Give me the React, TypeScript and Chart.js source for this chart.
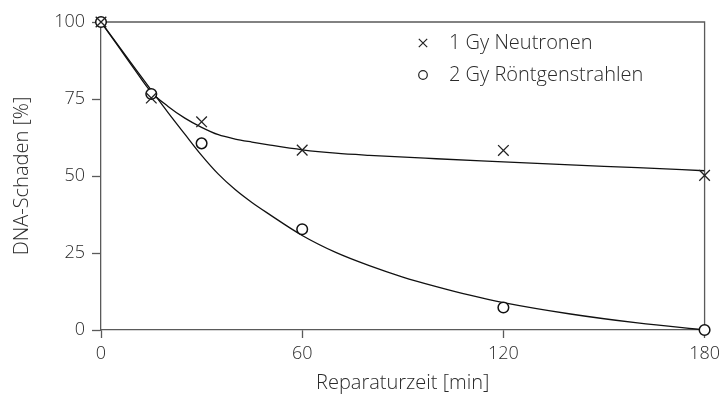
import React, { useEffect, useRef } from 'react';
import { Chart, registerables } from 'chart.js';

Chart.register(...registerables);

const neutronTimes = [0, 15, 30, 60, 120, 180];
const neutronDamage = [100, 75.3, 67.6, 58.4, 58.3, 50.2];
const xrayTimes = [0, 15, 30, 60, 120, 180];
const xrayDamage = [100, 76.6, 60.6, 32.7, 7.3, 0];

const neutronFitTimes = [0, 5, 10, 15, 20, 25, 30, 35, 40, 45, 50, 60, 70, 80, 100, 120, 140, 160, 180];
const neutronFitDamage = [100, 92.3, 84.6, 77.2, 72.6, 68.8, 65.8, 63.4, 62.0, 61.0, 60.1, 58.5, 57.4, 56.7, 55.6, 54.6, 53.6, 52.7, 51.7];
const xrayFitTimes = [0, 10, 20, 25, 30, 35, 40, 45, 50, 60, 70, 80, 90, 100, 110, 120, 140, 160, 180];
const xrayFitDamage = [100, 85.2, 70.6, 63.6, 56.7, 50.6, 45.6, 41.4, 37.7, 30.7, 25.2, 20.9, 17.2, 14.1, 11.3, 8.9, 5.2, 2.3, 0];

const xTicks = [0, 60, 120, 180];
const yTicks = [0, 25, 50, 75, 100];

const seriesLabels = ['1 Gy Neutronen', '2 Gy Röntgenstrahlen'];
const xTitle = 'Reparaturzeit [min]';
const yTitle = 'DNA-Schaden [%]';

const FONT = '"Open Sans", "Liberation Sans", sans-serif';
const TEXT = '#2a2a2a';
const AXIS = '#5a5a5a';

const toXY = (xs: number[], ys: number[]) => xs.map((x, i) => ({ x, y: ys[i] }));

const framePlugin = {
  id: 'frame',
  beforeDatasetsDraw(chart: any) {
    const { ctx, chartArea } = chart;
    ctx.save();
    ctx.strokeStyle = AXIS;
    ctx.lineWidth = 1.3;
    ctx.beginPath();
    ctx.moveTo(chartArea.left, chartArea.top);
    ctx.lineTo(chartArea.right, chartArea.top);
    ctx.lineTo(chartArea.right, chartArea.bottom);
    ctx.stroke();
    ctx.restore();
  },
};

const legendPlugin = {
  id: 'insideLegend',
  afterDraw(chart: any) {
    const { ctx, chartArea } = chart;
    const mx = chartArea.left + 322;
    const tx = chartArea.left + 348;
    const y0 = chartArea.top + 21;
    const dy = 32;
    ctx.save();
    ctx.font = `300 20px ${FONT}`;
    ctx.fillStyle = TEXT;
    ctx.textBaseline = 'middle';
    ctx.textAlign = 'left';
    seriesLabels.forEach((label, i) => {
      const y = y0 + i * dy;
      ctx.strokeStyle = '#222';
      ctx.lineWidth = 1.2;
      ctx.beginPath();
      if (i === 0) {
        const r = 4.2;
        ctx.moveTo(mx - r, y - r);
        ctx.lineTo(mx + r, y + r);
        ctx.moveTo(mx + r, y - r);
        ctx.lineTo(mx - r, y + r);
      } else {
        ctx.arc(mx, y, 4.3, 0, Math.PI * 2);
      }
      ctx.stroke();
      ctx.fillText(label, tx, y);
    });
    ctx.restore();
  },
};

export default function App() {
  const canvasRef = useRef<HTMLCanvasElement | null>(null);

  useEffect(() => {
    document.body.style.margin = '0';
    const canvas = canvasRef.current;
    if (!canvas) return;
    const tickFont = { family: FONT, size: 18, weight: '300' as any };
    const titleFont = { family: FONT, size: 20, weight: '300' as any };

    const chart = new Chart(canvas, {
      type: 'scatter',
      data: {
        datasets: [
          {
            label: seriesLabels[0],
            data: toXY(neutronTimes, neutronDamage),
            pointStyle: 'crossRot',
            pointRadius: 7.5,
            borderColor: '#222',
            backgroundColor: '#222',
            borderWidth: 1.3,
            showLine: false,
            clip: false as any,
            order: 0,
          },
          {
            label: seriesLabels[1],
            data: toXY(xrayTimes, xrayDamage),
            pointStyle: 'circle',
            pointRadius: 5.3,
            borderColor: '#111',
            backgroundColor: '#ffffff',
            borderWidth: 1.5,
            showLine: false,
            clip: false as any,
            order: 0,
          },
          {
            label: 'fit1',
            data: toXY(neutronFitTimes, neutronFitDamage),
            showLine: true,
            pointRadius: 0,
            borderColor: '#111',
            borderWidth: 1.3,
            cubicInterpolationMode: 'monotone',
            fill: false,
            order: 1,
          } as any,
          {
            label: 'fit2',
            data: toXY(xrayFitTimes, xrayFitDamage),
            showLine: true,
            pointRadius: 0,
            borderColor: '#111',
            borderWidth: 1.3,
            cubicInterpolationMode: 'monotone',
            fill: false,
            order: 1,
          } as any,
        ],
      },
      options: {
        animation: false,
        responsive: false,
        devicePixelRatio: 1,
        layout: { padding: { top: 22, right: 19, left: 0, bottom: 0 } },
        plugins: {
          legend: { display: false },
          tooltip: { enabled: false },
        },
        scales: {
          x: {
            type: 'linear',
            min: 0,
            max: 180,
            afterBuildTicks: (s: any) => {
              s.ticks = xTicks.map((v) => ({ value: v }));
            },
            afterFit: (s: any) => {
              s.height = 71;
            },
            ticks: { font: tickFont, color: TEXT, padding: 5, maxRotation: 0 },
            grid: {
              drawOnChartArea: false,
              drawTicks: true,
              tickLength: 8,
              tickColor: AXIS,
              tickWidth: 1.3,
            },
            border: { display: true, color: AXIS, width: 1.3 },
            title: {
              display: true,
              text: xTitle,
              font: titleFont,
              color: TEXT,
              padding: { top: 0, bottom: 6 },
            },
          },
          y: {
            type: 'linear',
            min: 0,
            max: 100,
            afterBuildTicks: (s: any) => {
              s.ticks = yTicks.map((v) => ({ value: v }));
            },
            afterFit: (s: any) => {
              s.width = 101;
            },
            ticks: { font: tickFont, color: TEXT, padding: 7 },
            grid: {
              drawOnChartArea: false,
              drawTicks: true,
              tickLength: 9,
              tickColor: AXIS,
              tickWidth: 1.3,
            },
            border: { display: true, color: AXIS, width: 1.3 },
            title: {
              display: true,
              text: yTitle,
              font: titleFont,
              color: TEXT,
              padding: { top: 10, bottom: 0 },
            },
          },
        },
      } as any,
      plugins: [framePlugin, legendPlugin],
    });

    return () => chart.destroy();
  }, []);

  return (
    <div style={{ width: 725, height: 401 }}>
      <canvas ref={canvasRef} width={725} height={401} style={{ display: 'block' }} />
    </div>
  );
}
